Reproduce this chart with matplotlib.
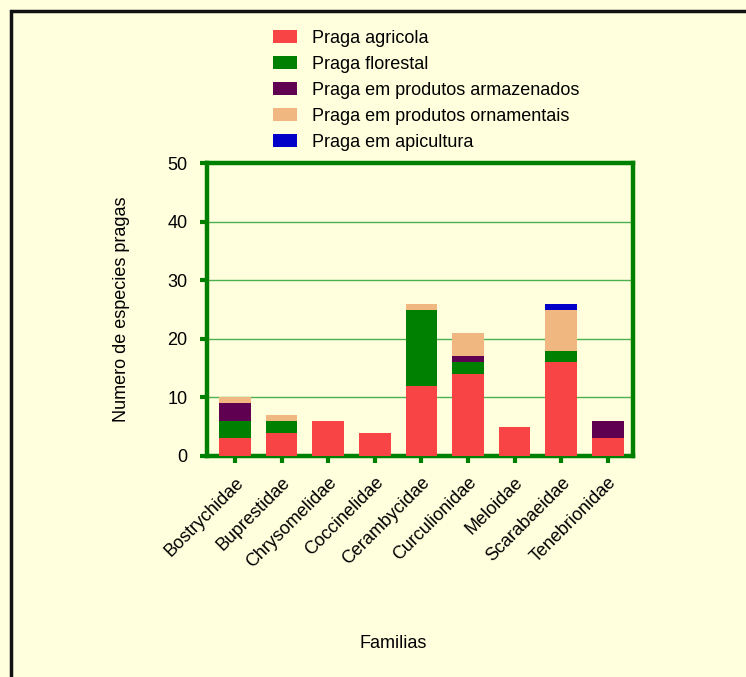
import matplotlib.pyplot as plt
from matplotlib.patches import Rectangle

plt.rcParams['font.family'] = ['Liberation Sans', 'DejaVu Sans']

familias = ['Bostrychidae', 'Buprestidae', 'Chrysomelidae', 'Coccinelidae', 'Cerambycidae',
            'Curculionidae', 'Meloidae', 'Scarabaeidae', 'Tenebrionidae']
agricola = [3, 4, 6, 4, 12, 14, 5, 16, 3]
florestal = [3, 2, 0, 0, 13, 2, 0, 2, 0]
armazenados = [3, 0, 0, 0, 0, 1, 0, 0, 3]
ornamentais = [1, 1, 0, 0, 1, 4, 0, 7, 0]
apicultura = [0, 0, 0, 0, 0, 0, 0, 1, 0]

series = [
    ('Praga agricola', agricola, '#F84444'),
    ('Praga florestal', florestal, '#008000'),
    ('Praga em produtos armazenados', armazenados, '#600050'),
    ('Praga em produtos ornamentais', ornamentais, '#F0B880'),
    ('Praga em apicultura', apicultura, '#0000C8'),
]

bg = '#FFFFDD'
frame_green = '#008000'
fs = 13

fig = plt.figure(figsize=(7.46, 6.77), dpi=100, facecolor=bg)
ax = fig.add_axes([207 / 746, 1 - 456 / 677, 426 / 746, 293 / 677])
ax.set_facecolor(bg)

# barras empilhadas
x = range(len(familias))
bottom = [0] * len(familias)
for label, vals, color in series:
    ax.bar(x, vals, width=0.68, bottom=bottom, color=color, label=label, zorder=3)
    bottom = [b + v for b, v in zip(bottom, vals)]

ax.set_xlim(-0.6, 8.54)
ax.set_ylim(0, 50)
ax.set_yticks([0, 10, 20, 30, 40, 50])
ax.set_xticks(list(x))
ax.set_xticklabels(familias, rotation=45, ha='right', rotation_mode='anchor', fontsize=fs)
ax.tick_params(axis='y', labelsize=fs, pad=9)
ax.tick_params(axis='x', pad=8)
ax.tick_params(direction='out', length=5, width=3, color=frame_green)
ax.yaxis.grid(True, color='#4CAF50', linewidth=1, zorder=1)
for s in ax.spines.values():
    s.set_color(frame_green)
    s.set_linewidth(3.2)

ax.set_ylabel('Numero de especies pragas', fontsize=fs, labelpad=27)
fig.text(393 / 746, 1 - 643 / 677, 'Familias', fontsize=fs, ha='center', va='center')

fig.legend(loc='upper left', bbox_to_anchor=(264 / 746, 1 - 21 / 677), frameon=False,
           fontsize=fs, handlelength=1.3, handleheight=0.75, handletextpad=0.85,
           labelspacing=0.5, borderpad=0)

# moldura preta
fig.patches.append(Rectangle((10.5 / 746, -0.1), 1.2, 1 - 10.5 / 677 + 0.1,
                             transform=fig.transFigure, fill=False,
                             edgecolor='#111111', linewidth=2.5))

plt.savefig('out.png', dpi=100, facecolor=bg)
